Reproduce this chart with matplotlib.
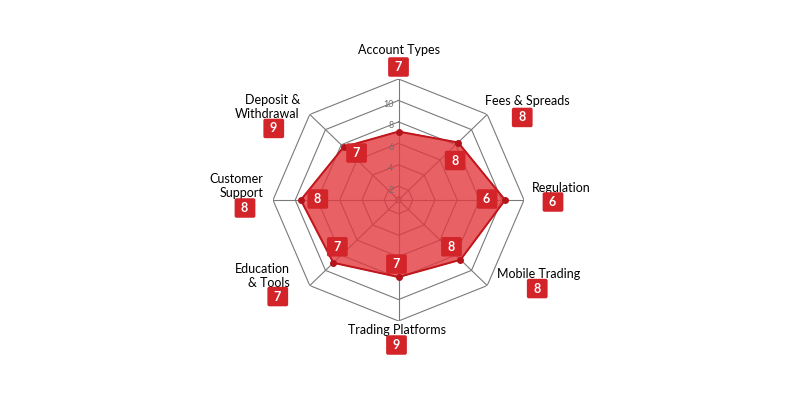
import numpy as np
import matplotlib.pyplot as plt

# data
categories = ["Account Types", "Fees & Spreads", "Regulation", "Mobile Trading",
              "Trading Platforms", "Education\n& Tools", "Customer\nSupport",
              "Deposit &\nWithdrawal"]
plotted = [7.1, 8.3, 10.3, 8.6, 7.9, 9.0, 9.5, 7.7]
outer_scores = [7, 8, 6, 8, 9, 7, 8, 9]
inner_scores = [None, 8, 6, 8, 7, 7, 8, 7]
ring_values = [1, 2, 4, 6, 8, 10, 12]
tick_values = [2, 4, 6, 8, 10]

# label placement (offset pixels from the outer vertex / data vertex)
text_off = [(0, 29), (40, 13), (37, 12), (51, 12), (-2, -9), (-20, 10), (-10, 14), (-10, 7)]
box_off = [(0, 12), (35, -3), (29, -2), (50, -3), (-2, -24), (-32, -11), (-28, -8), (-36, -14)]
inner_off = [(0, 0), (-3, -18), (-18, 1), (-9, 13), (-2, 13), (4, 16), (17, 1), (13, -6)]
text_ha = ["center", "center", "center", "center", "center", "right", "right", "right"]

RED = "#d3242a"
FONT = "Lato"

n = len(categories)
angles = np.linspace(0, 2 * np.pi, n, endpoint=False)
closed = np.append(angles, angles[0])

fig = plt.figure(figsize=(8, 4), dpi=100)
fig.patch.set_facecolor("white")
ax = fig.add_axes([0.34125, 0.1975, 0.31375, 0.605], projection="polar")
ax.set_aspect("auto")
ax.set_theta_zero_location("N")
ax.set_theta_direction(-1)
ax.set_ylim(0.72, 12)
ax.grid(False)
ax.spines["polar"].set_visible(False)
ax.set_xticks([])
ax.set_yticks([])
ax.patch.set_alpha(0)

# octagon grid
for rv in ring_values:
    ax.plot(closed, [rv] * (n + 1), color="#7a7a7a", lw=0.8, zorder=1)
for a in angles:
    ax.plot([a, a], [0.72, ring_values[-1]], color="#7a7a7a", lw=0.8, zorder=1)

for tv in tick_values:
    ax.annotate(str(tv), xy=(0, tv), xytext=(-5, -4), textcoords="offset pixels",
                ha="right", va="center", fontsize=6.5, color="#6e6e6e", family=FONT,
                zorder=6)

# data polygon
vals = plotted + plotted[:1]
ax.fill(closed, vals, color="#e2393f", alpha=0.8, zorder=3)
ax.plot(closed, vals, color="#c0161c", lw=1.4, zorder=4)
ax.plot(angles, plotted, "o", color="#b5141a", ms=4, zorder=5)

box = dict(boxstyle="round,pad=0.3,rounding_size=0.15", fc=RED, ec="none")

for i in range(n):
    a = angles[i]
    ax.annotate(categories[i], xy=(a, ring_values[-1]), xytext=text_off[i],
                textcoords="offset pixels", ha=text_ha[i], va="center",
                multialignment=text_ha[i], fontsize=9, family=FONT,
                color="black", linespacing=1.2, annotation_clip=False)
    ax.annotate(" %d " % outer_scores[i], xy=(a, ring_values[-1]), xytext=box_off[i],
                textcoords="offset pixels", ha="center", va="center",
                fontsize=9, fontweight="bold", family=FONT, color="white",
                bbox=box, annotation_clip=False)
    if inner_scores[i] is not None:
        ax.annotate(" %d " % inner_scores[i], xy=(a, plotted[i]), xytext=inner_off[i],
                    textcoords="offset pixels", ha="center", va="center",
                    fontsize=9, fontweight="bold", family=FONT, color="white",
                    bbox=box, zorder=6)

plt.savefig("out.png", dpi=100, facecolor="white")
